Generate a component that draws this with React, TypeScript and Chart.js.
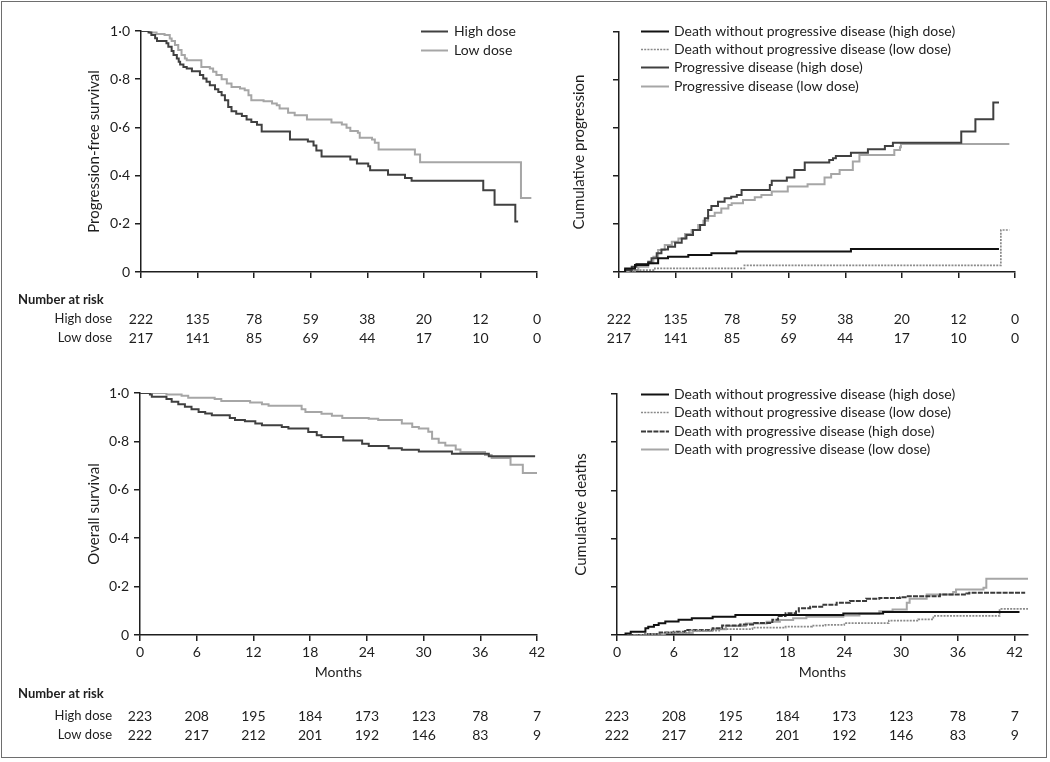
import React, { useEffect, useRef } from 'react';
import { Chart, registerables } from 'chart.js';
Chart.register(...registerables);

const FONT = 'Lato, "Liberation Sans", sans-serif';
const INK = '#1e1e1e';
const DARK = '#404040';
const LIGHT = '#a6a6a6';
const BLACK = '#111111';
const DOTTED = '#8a8a8a';

// ---------- tick labels / risk tables ----------
const monthTicks = [0, 6, 12, 18, 24, 30, 36, 42];
const pfsRiskHigh = [222, 135, 78, 59, 38, 20, 12, 0];
const pfsRiskLow = [217, 141, 85, 69, 44, 17, 10, 0];
const osRiskHigh = [223, 208, 195, 184, 173, 123, 78, 7];
const osRiskLow = [222, 217, 212, 201, 192, 146, 83, 9];

// ---------- progression-free survival ----------
const pfsHighT = [0, 0.8, 1.1, 1.5, 1.7, 2.7, 2.9, 3.25, 3.45, 3.8, 4.0, 4.15, 4.5, 4.85, 5.4, 6.25, 6.6, 6.95, 7.3, 7.85, 8.2, 8.55, 8.9, 9.25, 9.6, 10.1, 10.7, 11.2, 11.7, 12.3, 12.8, 15.8, 17.7, 18.3, 18.6, 19.15, 22.2, 22.9, 24.1, 24.3, 26.2, 28.0, 28.7, 36.3, 37.5, 39.7, 40.0];
const pfsHighS = [1, 0.994, 0.983, 0.97, 0.958, 0.949, 0.935, 0.917, 0.9, 0.886, 0.872, 0.861, 0.851, 0.844, 0.833, 0.817, 0.803, 0.789, 0.775, 0.758, 0.747, 0.733, 0.713, 0.685, 0.667, 0.657, 0.647, 0.633, 0.622, 0.611, 0.583, 0.55, 0.542, 0.525, 0.504, 0.479, 0.467, 0.45, 0.439, 0.422, 0.404, 0.39, 0.379, 0.339, 0.279, 0.21, 0.21];
const pfsLowT = [0, 0.95, 1.65, 2.5, 3.05, 3.25, 3.6, 3.95, 4.3, 4.65, 4.85, 6.4, 7.3, 7.65, 8.0, 8.55, 9.1, 9.6, 10.5, 11.0, 11.4, 11.7, 13.0, 13.9, 14.4, 14.7, 15.6, 16.3, 17.6, 20.2, 21.3, 21.8, 22.2, 23.0, 23.2, 24.5, 24.8, 25.2, 29.05, 29.6, 40.3, 41.4];
const pfsLowS = [1, 0.994, 0.988, 0.983, 0.969, 0.958, 0.942, 0.921, 0.9, 0.886, 0.879, 0.851, 0.844, 0.831, 0.817, 0.8, 0.782, 0.768, 0.761, 0.754, 0.733, 0.713, 0.708, 0.699, 0.692, 0.678, 0.661, 0.65, 0.633, 0.62, 0.612, 0.599, 0.585, 0.578, 0.557, 0.55, 0.536, 0.508, 0.488, 0.455, 0.307, 0.307];

// ---------- cumulative progression ----------
const cpDeathHighT = [0, 0.65, 1.7, 3.1, 4.15, 5.2, 7.35, 9.8, 12.45, 24.6, 40.3];
const cpDeathHighV = [0, 0.015, 0.029, 0.036, 0.057, 0.064, 0.071, 0.078, 0.085, 0.096, 0.096];
const cpDeathLowT = [0, 1.7, 3.8, 13.3, 40.5, 41.4];
const cpDeathLowV = [0, 0.008, 0.015, 0.028, 0.175, 0.175];
const cpProgHighT = [0, 0.65, 1.35, 1.85, 3.1, 3.45, 4.0, 4.5, 5.2, 5.95, 6.65, 7.15, 7.85, 8.6, 9.1, 9.45, 9.8, 10.5, 11.2, 11.9, 12.5, 13.0, 16.0, 16.2, 17.8, 18.6, 19.7, 22.3, 22.7, 23.0, 24.6, 26.4, 28.2, 29.05, 36.3, 37.8, 39.7, 40.3];
const cpProgHighV = [0, 0.008, 0.022, 0.033, 0.043, 0.057, 0.078, 0.094, 0.105, 0.122, 0.14, 0.154, 0.175, 0.196, 0.224, 0.258, 0.275, 0.293, 0.307, 0.314, 0.321, 0.342, 0.363, 0.38, 0.394, 0.425, 0.456, 0.467, 0.474, 0.483, 0.497, 0.511, 0.525, 0.539, 0.585, 0.636, 0.706, 0.706];
const cpProgLowT = [0, 1.0, 2.05, 3.1, 3.65, 4.15, 4.85, 5.6, 6.3, 7.0, 7.7, 8.4, 8.95, 9.45, 10.15, 10.85, 11.6, 11.95, 13.15, 14.4, 15.1, 16.2, 17.9, 20.0, 21.8, 22.5, 23.4, 24.8, 25.5, 29.2, 29.8, 29.9, 41.4];
const cpProgLowV = [0, 0.008, 0.022, 0.036, 0.064, 0.092, 0.113, 0.126, 0.14, 0.158, 0.175, 0.196, 0.214, 0.233, 0.247, 0.265, 0.279, 0.286, 0.3, 0.311, 0.321, 0.335, 0.356, 0.366, 0.394, 0.408, 0.425, 0.46, 0.488, 0.508, 0.52, 0.533, 0.533];

// ---------- overall survival ----------
const osHighT = [0, 1.05, 1.25, 2.8, 3.35, 4.05, 4.75, 5.45, 6.2, 6.9, 7.6, 9.5, 10.05, 11.1, 12.2, 12.9, 15.0, 15.7, 17.8, 18.7, 19.2, 21.5, 23.5, 24.2, 26.3, 27.7, 29.5, 33.0, 36.9, 41.8];
const osHighS = [1, 0.994, 0.985, 0.975, 0.964, 0.953, 0.943, 0.933, 0.922, 0.915, 0.908, 0.897, 0.888, 0.883, 0.874, 0.867, 0.86, 0.853, 0.839, 0.825, 0.818, 0.804, 0.79, 0.781, 0.772, 0.765, 0.758, 0.749, 0.739, 0.739];
const osLowT = [0, 2.8, 4.4, 5.1, 7.9, 8.6, 11.65, 12.9, 13.6, 17.1, 17.5, 19.2, 20.3, 21.4, 24.2, 25.2, 27.7, 28.8, 29.5, 30.5, 30.9, 31.6, 32.3, 33.4, 33.9, 36.5, 37.2, 39.2, 40.5, 42];
const osLowS = [1, 0.994, 0.989, 0.98, 0.975, 0.967, 0.961, 0.953, 0.947, 0.933, 0.922, 0.914, 0.906, 0.897, 0.894, 0.888, 0.874, 0.86, 0.853, 0.84, 0.811, 0.794, 0.783, 0.767, 0.756, 0.744, 0.731, 0.703, 0.669, 0.669];

// ---------- cumulative deaths ----------
const cdNoPdHighT = [0, 0.9, 1.45, 3.0, 3.3, 3.9, 4.4, 5.1, 6.5, 7.9, 10.1, 12.5, 23.9, 28.1, 42.5];
const cdNoPdHighV = [0, 0.006, 0.014, 0.028, 0.034, 0.042, 0.049, 0.056, 0.063, 0.069, 0.076, 0.083, 0.089, 0.095, 0.095];
const cdNoPdLowT = [0, 3.0, 5.1, 7.6, 10.8, 14.3, 17.8, 20.6, 22.0, 24.0, 28.7, 31.8, 33.4, 40.4, 43.4];
const cdNoPdLowV = [0, 0.005, 0.01, 0.018, 0.024, 0.031, 0.035, 0.039, 0.042, 0.049, 0.06, 0.065, 0.079, 0.108, 0.108];
const cdPdHighT = [0, 3.0, 4.5, 6.0, 7.2, 10.1, 11.1, 13.0, 14.5, 16.4, 17.0, 17.8, 18.9, 19.2, 20.4, 21.8, 23.2, 24.6, 26.3, 27.7, 29.9, 30.6, 34.1, 36.9, 37.2, 43.1];
const cdPdHighV = [0, 0.004, 0.01, 0.014, 0.021, 0.028, 0.039, 0.044, 0.05, 0.063, 0.079, 0.09, 0.097, 0.111, 0.117, 0.126, 0.134, 0.141, 0.15, 0.154, 0.157, 0.161, 0.168, 0.172, 0.175, 0.175];
const cdPdLowT = [0, 5.0, 8.0, 10.0, 11.5, 13.6, 15.8, 17.2, 18.6, 20.0, 23.9, 25.6, 27.7, 29.1, 30.6, 30.9, 32.7, 35.5, 35.8, 38.7, 39.0, 43.5];
const cdPdLowV = [0, 0.008, 0.017, 0.024, 0.037, 0.048, 0.055, 0.062, 0.069, 0.076, 0.081, 0.088, 0.099, 0.106, 0.134, 0.15, 0.168, 0.178, 0.189, 0.196, 0.233, 0.233];

const pts = (t: number[], v: number[]) => t.map((x, i) => ({ x, y: v[i] }));

type DS = { label: string; data: { x: number; y: number }[]; color: string; width?: number; dash?: number[] };
type Panel = {
  left: number; top: number; w: number; h: number;
  area: { l: number; r: number; t: number; b: number };
  xMax: number;
  yTitle: string; yTitleX: number;
  showYLabels: boolean; showXLabels: boolean; xTitle?: string; xTitleY?: number;
  datasets: DS[];
  legend: { x0: number; x1: number; tx: number; ys: number[] };
  risk: { high: number[]; low: number[]; ys: number[]; labels: boolean };
};

const fmtY = (v: number) => (Math.abs(v) < 1e-9 ? '0' : v.toFixed(1).replace('.', '\u00b7'));

function panelPlugin(p: Panel) {
  return {
    id: 'panelExtras',
    afterDraw(chart: any) {
      const ctx: CanvasRenderingContext2D = chart.ctx;
      ctx.save();
      // legend
      chart.data.datasets.forEach((d: any, i: number) => {
        if (!d.label) return;
        const y = p.legend.ys[i];
        ctx.beginPath();
        ctx.strokeStyle = d.borderColor;
        ctx.lineWidth = d.borderWidth;
        ctx.setLineDash(d.borderDash || []);
        ctx.moveTo(p.legend.x0, y + 0.5);
        ctx.lineTo(p.legend.x1, y + 0.5);
        ctx.stroke();
        ctx.setLineDash([]);
        ctx.fillStyle = INK;
        ctx.font = `14px ${FONT}`;
        ctx.textAlign = 'left';
        ctx.textBaseline = 'middle';
        ctx.fillText(d.label, p.legend.tx, y);
      });
      // number at risk
      const xs = chart.scales.x;
      ctx.fillStyle = INK;
      ctx.textBaseline = 'middle';
      if (p.risk.labels) {
        ctx.font = `bold 13px ${FONT}`;
        ctx.textAlign = 'left';
        ctx.fillText('Number at risk', 18, p.risk.ys[0]);
        ctx.font = `13px ${FONT}`;
        ctx.textAlign = 'right';
        ctx.fillText('High dose', 112, p.risk.ys[1]);
        ctx.fillText('Low dose', 112, p.risk.ys[2]);
      }
      ctx.font = `14px ${FONT}`;
      ctx.textAlign = 'center';
      monthTicks.forEach((m, i) => {
        const x = xs.getPixelForValue(m);
        ctx.fillText(String(p.risk.high[i]), x, p.risk.ys[1]);
        ctx.fillText(String(p.risk.low[i]), x, p.risk.ys[2]);
      });
      ctx.restore();
    },
  };
}

function buildConfig(p: Panel): any {
  const tickFont = { family: FONT, size: 14 };
  const titleFont = { family: FONT, size: 15 };
  return {
    type: 'line',
    data: {
      datasets: p.datasets.map((d) => ({
        label: d.label,
        data: d.data,
        borderColor: d.color,
        borderWidth: d.width ?? 2,
        borderDash: d.dash ?? [],
        stepped: 'before',
        pointRadius: 0,
        fill: false,
        tension: 0,
        borderCapStyle: 'butt',
        borderJoinStyle: 'miter',
      })),
    },
    options: {
      responsive: false,
      animation: false,
      devicePixelRatio: 1,
      layout: { padding: { left: 0, top: p.area.t, right: p.w - p.area.r, bottom: 0 } },
      plugins: { legend: { display: false }, tooltip: { enabled: false }, title: { display: false } },
      scales: {
        x: {
          type: 'linear',
          min: 0,
          max: p.xMax,
          afterFit: (s: any) => { s.height = p.h - p.area.b; },
          ticks: {
            stepSize: 6, includeBounds: false, display: p.showXLabels, font: tickFont, color: INK,
            padding: 3, maxRotation: 0, autoSkip: false, callback: (v: any) => String(v),
          },
          grid: { display: true, drawOnChartArea: false, drawTicks: true, tickLength: 6, color: INK, tickColor: INK, lineWidth: 1.5 },
          border: { display: true, color: INK, width: 1.5 },
          title: {
            display: !!p.xTitle, text: p.xTitle || '', font: { family: FONT, size: 14 }, color: INK,
            padding: { top: 0, bottom: p.xTitleY !== undefined ? p.h - p.xTitleY - 8.4 : 0 },
          },
        },
        y: {
          type: 'linear',
          min: 0,
          max: 1,
          afterFit: (s: any) => { s.width = p.area.l; },
          ticks: { stepSize: 0.2, display: p.showYLabels, font: tickFont, color: INK, padding: 5, callback: (v: any) => fmtY(Number(v)) },
          grid: { display: true, drawOnChartArea: false, drawTicks: true, tickLength: 6, color: INK, tickColor: INK, lineWidth: 1.5 },
          border: { display: true, color: INK, width: 1.5 },
          title: { display: true, text: p.yTitle, font: titleFont, color: INK, padding: { top: p.yTitleX - 9, bottom: 0 } },
        },
      },
    },
    plugins: [panelPlugin(p)],
  };
}

const panels: Panel[] = [
  {
    left: 0, top: 0, w: 560, h: 360,
    area: { l: 141, r: 537, t: 31, b: 272 },
    xMax: 42, yTitle: 'Progression-free survival', yTitleX: 94,
    showYLabels: true, showXLabels: false,
    datasets: [
      { label: 'High dose', data: pts(pfsHighT, pfsHighS), color: DARK },
      { label: 'Low dose', data: pts(pfsLowT, pfsLowS), color: LIGHT },
    ],
    legend: { x0: 421, x1: 448, tx: 454, ys: [31, 50] },
    risk: { high: pfsRiskHigh, low: pfsRiskLow, ys: [300, 319, 338], labels: true },
  },
  {
    left: 560, top: 0, w: 490, h: 360,
    area: { l: 59, r: 455, t: 32, b: 272 },
    xMax: 42, yTitle: 'Cumulative progression', yTitleX: 19,
    showYLabels: false, showXLabels: false,
    datasets: [
      { label: 'Death without progressive disease (high dose)', data: pts(cpDeathHighT, cpDeathHighV), color: BLACK },
      { label: 'Death without progressive disease (low dose)', data: pts(cpDeathLowT, cpDeathLowV), color: DOTTED, width: 1.7, dash: [2, 1.2] },
      { label: 'Progressive disease (high dose)', data: pts(cpProgHighT, cpProgHighV), color: DARK },
      { label: 'Progressive disease (low dose)', data: pts(cpProgLowT, cpProgLowV), color: LIGHT },
    ],
    legend: { x0: 81, x1: 109, tx: 114, ys: [31, 49, 67, 86] },
    risk: { high: pfsRiskHigh, low: pfsRiskLow, ys: [300, 319, 338], labels: false },
  },
  {
    left: 0, top: 360, w: 560, h: 400,
    area: { l: 140, r: 537, t: 33, b: 275 },
    xMax: 42, yTitle: 'Overall survival', yTitleX: 94,
    showYLabels: true, showXLabels: true, xTitle: 'Months', xTitleY: 312,
    datasets: [
      { label: '', data: pts(osHighT, osHighS), color: DARK },
      { label: '', data: pts(osLowT, osLowS), color: LIGHT },
    ],
    legend: { x0: 0, x1: 0, tx: 0, ys: [-50, -50] },
    risk: { high: osRiskHigh, low: osRiskLow, ys: [334, 356, 375], labels: true },
  },
  {
    left: 560, top: 360, w: 490, h: 400,
    area: { l: 57, r: 468, t: 34, b: 275 },
    xMax: 43.4, yTitle: 'Cumulative deaths', yTitleX: 21,
    showYLabels: false, showXLabels: true, xTitle: 'Months', xTitleY: 312,
    datasets: [
      { label: 'Death without progressive disease (high dose)', data: pts(cdNoPdHighT, cdNoPdHighV), color: BLACK },
      { label: 'Death without progressive disease (low dose)', data: pts(cdNoPdLowT, cdNoPdLowV), color: DOTTED, width: 1.7, dash: [2, 1.2] },
      { label: 'Death with progressive disease (high dose)', data: pts(cdPdHighT, cdPdHighV), color: '#3a3a3a', dash: [5, 1.2] },
      { label: 'Death with progressive disease (low dose)', data: pts(cdPdLowT, cdPdLowV), color: LIGHT },
    ],
    legend: { x0: 81, x1: 109, tx: 114, ys: [34, 52, 71, 89] },
    risk: { high: osRiskHigh, low: osRiskLow, ys: [334, 356, 375], labels: false },
  },
];

function PanelChart({ p }: { p: Panel }) {
  const ref = useRef<HTMLCanvasElement>(null);
  useEffect(() => {
    const chart = new Chart(ref.current as HTMLCanvasElement, buildConfig(p));
    return () => chart.destroy();
  }, []);
  return (
    <canvas
      ref={ref}
      width={p.w}
      height={p.h}
      style={{ position: 'absolute', left: p.left, top: p.top, width: p.w, height: p.h }}
    />
  );
}

export default function App() {
  return (
    <div style={{ position: 'absolute', left: 0, top: 0, width: 1050, height: 762, background: '#fff', overflow: 'hidden' }}>
      {panels.map((p, i) => (
        <PanelChart key={i} p={p} />
      ))}
      <div
        style={{
          position: 'absolute', left: 1, top: 1, width: 1046, height: 757,
          border: '1.5px solid #6e6e6e', boxSizing: 'border-box', pointerEvents: 'none',
        }}
      />
    </div>
  );
}
